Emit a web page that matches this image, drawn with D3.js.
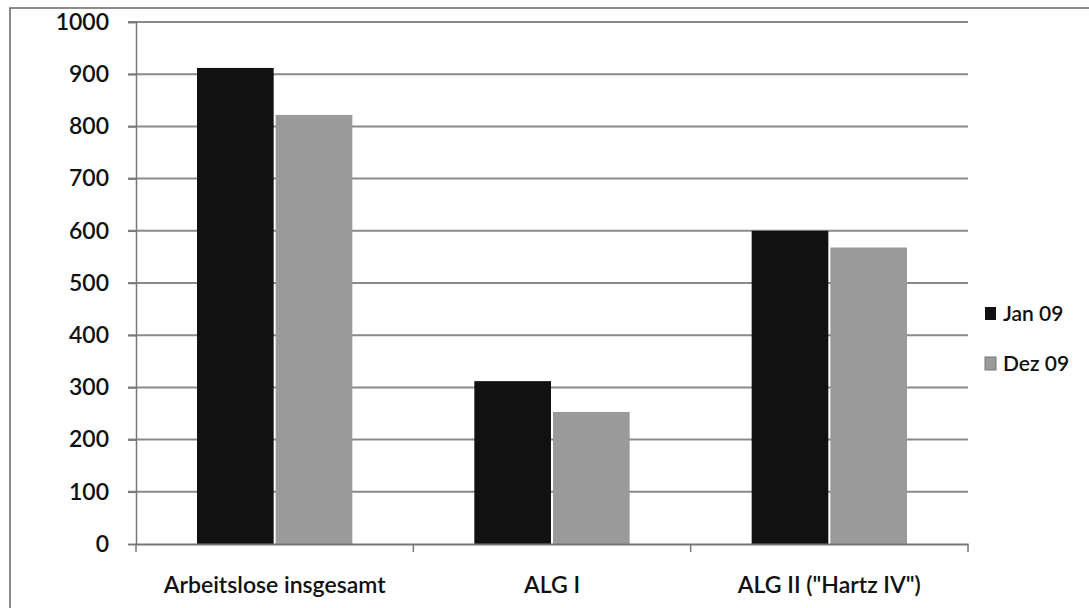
<!DOCTYPE html>
<html>
<head>
<meta charset="utf-8">
<script src="https://cdn.jsdelivr.net/npm/d3@7"></script>
<style>
  body { margin: 0; background: #fff; }
  text { font-family: Lato, "Open Sans", sans-serif; fill: #111; }
</style>
</head>
<body>
<div id="chart"></div>
<script>
// Data
const categories = ["Arbeitslose insgesamt", "ALG I", "ALG II (\"Hartz IV\")"];
const seriesNames = ["Jan 09", "Dez 09"];
const jan09 = [912, 312, 600];
const dez09 = [822, 253, 568];
const yTicks = [0, 100, 200, 300, 400, 500, 600, 700, 800, 900, 1000];

const seriesColors = ["#111111", "#9a9a9a"];

const W = 1089, H = 608;
const margin = { top: 22, right: 121, bottom: 64, left: 136 };
const width = W - margin.left - margin.right;
const height = H - margin.top - margin.bottom;

const svg = d3.select("#chart").append("svg")
    .attr("width", W)
    .attr("height", H);

// outer frame (runs off the right and bottom edges)
svg.append("rect")
    .attr("x", 10).attr("y", 8)
    .attr("width", W + 20).attr("height", H + 20)
    .attr("fill", "none")
    .attr("stroke", "#666")
    .attr("stroke-width", 1.5);

const g = svg.append("g")
    .attr("transform", `translate(${margin.left},${margin.top})`);

const x = d3.scaleBand()
    .domain(categories)
    .range([0, width])
    .paddingInner(0)
    .paddingOuter(0);

const x1 = d3.scaleBand()
    .domain(seriesNames)
    .range([60, x.bandwidth() - 60]);

const y = d3.scaleLinear()
    .domain([0, 1000])
    .range([height, 0]);

// gridlines
g.selectAll(".grid")
    .data(yTicks.filter(d => d > 0))
    .enter().append("line")
    .attr("x1", -8).attr("x2", width)
    .attr("y1", d => y(d)).attr("y2", d => y(d))
    .attr("stroke", "#8a8a8a")
    .attr("stroke-width", 2);

// y axis
const yAxis = g.append("g")
    .call(d3.axisLeft(y).tickValues(yTicks).tickFormat(d3.format("d")).tickSize(8).tickPadding(19));
yAxis.select(".domain").attr("stroke", "#777").attr("stroke-width", 1.5);
yAxis.selectAll(".tick line").attr("stroke", "#777").attr("stroke-width", 1.5);
yAxis.selectAll("text")
    .style("font-family", "Lato, sans-serif")
    .style("font-size", "23px")
    .style("font-weight", "600")
    .attr("fill", "#111");

// bars
const rows = categories.map((c, i) => ({ cat: c, values: [jan09[i], dez09[i]] }));
const groups = g.selectAll(".grp")
    .data(rows)
    .enter().append("g")
    .attr("transform", d => `translate(${x(d.cat)},0)`);

groups.selectAll("rect")
    .data(d => d.values.map((v, k) => ({ key: seriesNames[k], value: v, k: k })))
    .enter().append("rect")
    .attr("x", d => x1(d.key) + 1)
    .attr("width", x1.bandwidth() - 2)
    .attr("y", d => y(d.value))
    .attr("height", d => height - y(d.value))
    .attr("fill", d => seriesColors[d.k]);

// x axis
const xAxis = g.append("g")
    .attr("transform", `translate(0,${height})`)
    .call(d3.axisBottom(x).tickSize(0).tickPadding(33));
xAxis.select(".domain").attr("stroke", "#777").attr("stroke-width", 2);
xAxis.selectAll("text")
    .style("font-family", "Lato, sans-serif")
    .style("font-size", "23px")
    .style("font-weight", "600")
    .attr("fill", "#111");

// category separator ticks
g.selectAll(".sep")
    .data(d3.range(categories.length + 1))
    .enter().append("line")
    .attr("x1", i => i * x.bandwidth()).attr("x2", i => i * x.bandwidth())
    .attr("y1", height).attr("y2", height + 8)
    .attr("stroke", "#777")
    .attr("stroke-width", 1.5);

// legend
const legend = svg.append("g")
    .attr("transform", "translate(985,307)");
seriesNames.forEach((s, i) => {
    const row = legend.append("g").attr("transform", `translate(0,${i * 50})`);
    row.append("rect")
        .attr("width", 11).attr("height", 13)
        .attr("fill", seriesColors[i])
        .attr("stroke", i ? "#777" : "none");
    row.append("text")
        .attr("x", 18).attr("y", 14)
        .style("font-size", "21px")
        .style("font-weight", "600")
        .text(s);
});
</script>
</body>
</html>
